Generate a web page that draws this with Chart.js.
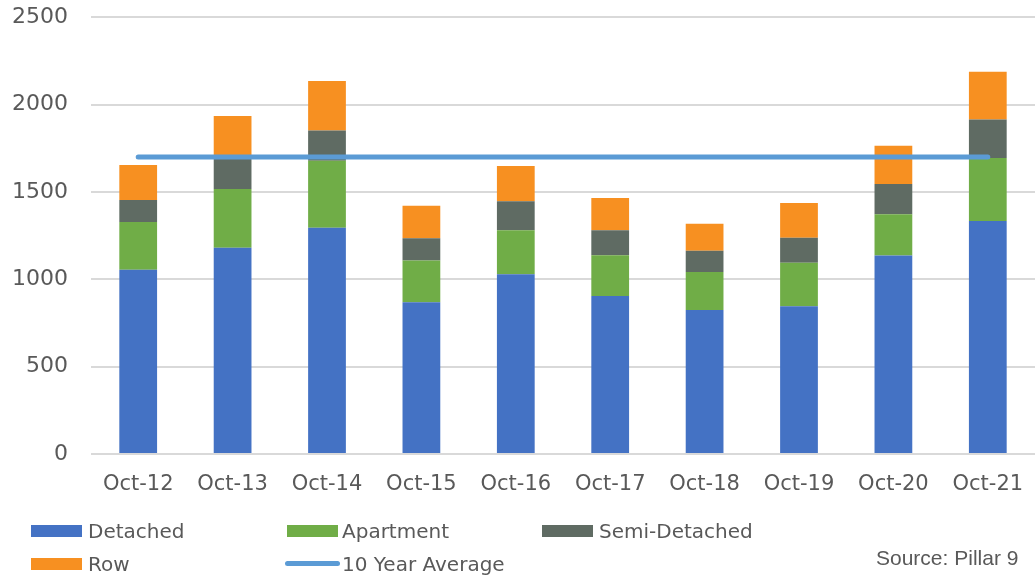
<!DOCTYPE html>
<html>
<head>
<meta charset="utf-8">
<script src="https://cdn.jsdelivr.net/npm/chart.js@4"></script>
<style>
  html, body { margin: 0; padding: 0; background: #fff; overflow: hidden; }
  #wrap { position: relative; width: 1035px; height: 585px; overflow: hidden; font-family: "DejaVu Sans", sans-serif; color: #595959; }
  #chart { position: absolute; left: 0; top: -19px; }
  .leg { position: absolute; font-size: 20px; line-height: 24px; white-space: nowrap; }
  .sw { position: absolute; width: 51px; height: 12px; }
  .ln { position: absolute; width: 55px; height: 5px; border-radius: 3px; background: #5B9BD5; }
  #source { position: absolute; left: 876px; top: 546px; font-family: "Liberation Sans", sans-serif; font-size: 21px; color: #595959; }
</style>
</head>
<body>
<div id="wrap">
  <canvas id="chart" width="1035" height="604"></canvas>
  <div class="sw" style="left:31px;top:525px;background:#4472C4"></div><div class="leg" style="left:88px;top:519px">Detached</div>
  <div class="sw" style="left:287px;top:525px;background:#70AD47"></div><div class="leg" style="left:342px;top:519px">Apartment</div>
  <div class="sw" style="left:542px;top:525px;background:#5F6B63"></div><div class="leg" style="left:599px;top:519px">Semi-Detached</div>
  <div class="sw" style="left:31px;top:558px;background:#F79021"></div><div class="leg" style="left:88px;top:552px">Row</div>
  <div class="ln" style="left:285px;top:561px"></div><div class="leg" style="left:342px;top:552px">10 Year Average</div>
  <div id="source">Source: Pillar 9</div>
</div>
<script>
const labels = ["Oct-12", "Oct-13", "Oct-14", "Oct-15", "Oct-16", "Oct-17", "Oct-18", "Oct-19", "Oct-20", "Oct-21"];
const detached = [1055, 1180, 1295, 869, 1029, 904, 824, 846, 1136, 1334];
const apartment = [273, 337, 383, 238, 251, 234, 217, 248, 236, 360];
const semiDetached = [126, 195, 174, 128, 166, 142, 123, 143, 173, 220];
const row = [200, 223, 283, 186, 202, 185, 154, 200, 219, 274];
const tenYearAvg = [1700, 1700, 1700, 1700, 1700, 1700, 1700, 1700, 1700, 1700];
const yTicks = [0, 500, 1000, 1500, 2000, 2500];

const textColor = "#595959";

function bar(label, data, color) {
  return { type: "bar", label, data, backgroundColor: color, stack: "homes", order: 1,
    barPercentage: 0.4, categoryPercentage: 1, borderWidth: 0 };
}

const ctx = document.getElementById("chart").getContext("2d");

new Chart(ctx, {
  data: {
    labels,
    datasets: [
      { type: "line", label: "10 Year Average", data: tenYearAvg, stack: "avg", order: 0,
        borderColor: "#5B9BD5", borderWidth: 5, borderCapStyle: "round",
        pointRadius: 0, fill: false },
      bar("Detached", detached, "#4472C4"),
      bar("Apartment", apartment, "#70AD47"),
      bar("Semi-Detached", semiDetached, "#5F6B63"),
      bar("Row", row, "#F79021"),
    ],
  },
  options: {
    responsive: false,
    animation: false,
    layout: { padding: 0 },
    plugins: { legend: { display: false }, tooltip: { enabled: false } },
    scales: {
      x: {
        stacked: true,
        grid: { display: false },
        border: { display: false },
        ticks: { color: textColor, font: { family: "DejaVu Sans", size: 21 }, padding: 10, maxRotation: 0 },
        afterFit: (s) => { s.height = 131; },
      },
      y: {
        stacked: true,
        min: 0,
        max: 2500,
        afterBuildTicks: (s) => { s.ticks = yTicks.map((v) => ({ value: v })); },
        grid: { color: "#d9d9d9", lineWidth: 2, drawTicks: false },
        border: { display: false },
        ticks: { color: textColor, font: { family: "DejaVu Sans", size: 22 }, padding: 23, callback: (v) => String(v) },
        afterFit: (s) => { s.width = 91; },
      },
    },
  },
});
</script>
</body>
</html>
